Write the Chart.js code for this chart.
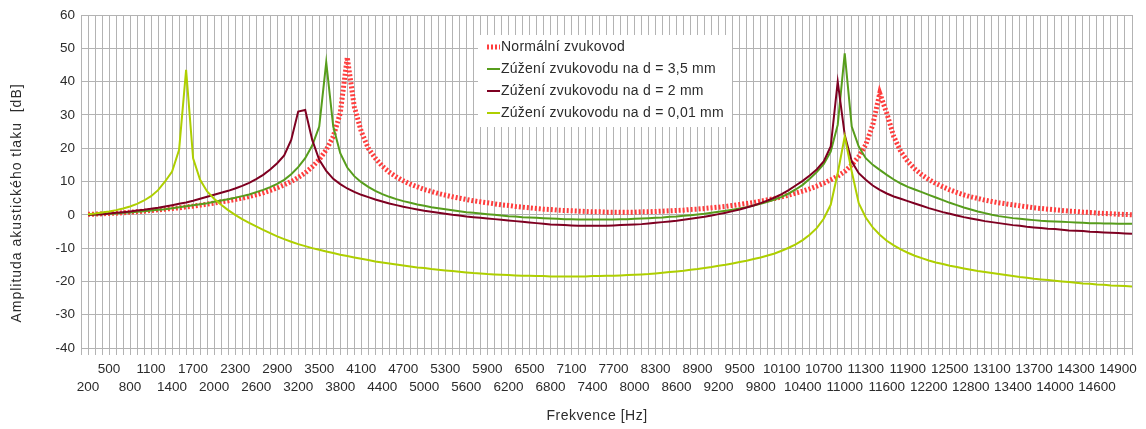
<!DOCTYPE html>
<html>
<head>
<meta charset="utf-8">
<script src="https://cdn.jsdelivr.net/npm/chart.js@4/dist/chart.umd.min.js"></script>
<style>
  html, body { margin: 0; padding: 0; background: #fff; }
  canvas { display: block; }
</style>
</head>
<body>
<canvas id="ucho" width="1146" height="429"></canvas>
<script>
// frequency points [Hz]
const freqs = [
  200, 300, 400, 500, 600, 700, 800, 900, 1000, 1100,
  1200, 1300, 1400, 1500, 1600, 1700, 1800, 1900, 2000, 2100,
  2200, 2300, 2400, 2500, 2600, 2700, 2800, 2900, 3000, 3100,
  3200, 3300, 3400, 3500, 3600, 3700, 3800, 3900, 4000, 4100,
  4200, 4300, 4400, 4500, 4600, 4700, 4800, 4900, 5000, 5100,
  5200, 5300, 5400, 5500, 5600, 5700, 5800, 5900, 6000, 6100,
  6200, 6300, 6400, 6500, 6600, 6700, 6800, 6900, 7000, 7100,
  7200, 7300, 7400, 7500, 7600, 7700, 7800, 7900, 8000, 8100,
  8200, 8300, 8400, 8500, 8600, 8700, 8800, 8900, 9000, 9100,
  9200, 9300, 9400, 9500, 9600, 9700, 9800, 9900, 10000, 10100,
  10200, 10300, 10400, 10500, 10600, 10700, 10800, 10900, 11000, 11100,
  11200, 11300, 11400, 11500, 11600, 11700, 11800, 11900, 12000, 12100,
  12200, 12300, 12400, 12500, 12600, 12700, 12800, 12900, 13000, 13100,
  13200, 13300, 13400, 13500, 13600, 13700, 13800, 13900, 14000, 14100,
  14200, 14300, 14400, 14500, 14600, 14700, 14800, 14900, 15000, 15100
];

// amplitude [dB] - normal ear canal
const normalni = [
  0.2, 0.2, 0.3, 0.4, 0.5, 0.6, 0.8, 0.9, 1.1, 1.3,
  1.5, 1.7, 1.9, 2.1, 2.4, 2.6, 2.9, 3.2, 3.5, 3.9,
  4.2, 4.6, 5.0, 5.5, 6.0, 6.6, 7.3, 8.1, 9.0, 10.0,
  11.2, 12.6, 14.4, 16.6, 19.5, 23.5, 30.5, 47.3, 32.5, 25.0,
  20.0, 17.0, 14.6, 12.8, 11.4, 10.2, 9.2, 8.4, 7.6, 7.0,
  6.4, 5.9, 5.4, 5.0, 4.6, 4.2, 3.9, 3.6, 3.3, 3.0,
  2.8, 2.5, 2.3, 2.1, 1.9, 1.7, 1.6, 1.4, 1.3, 1.2,
  1.1, 1.0, 0.9, 0.9, 0.8, 0.8, 0.8, 0.8, 0.8, 0.9,
  0.9, 1.0, 1.1, 1.2, 1.3, 1.4, 1.6, 1.7, 1.9, 2.1,
  2.3, 2.5, 2.8, 3.1, 3.4, 3.7, 4.1, 4.5, 4.9, 5.4,
  5.9, 6.5, 7.1, 7.8, 8.6, 9.5, 10.5, 11.6, 13.0, 15.0,
  17.5, 21.0, 27.0, 36.5, 30.5, 23.5, 19.0, 16.0, 13.8, 12.0,
  10.6, 9.4, 8.4, 7.5, 6.7, 6.0, 5.4, 4.9, 4.4, 4.0,
  3.6, 3.3, 3.0, 2.7, 2.4, 2.1, 1.9, 1.7, 1.5, 1.3,
  1.1, 1.0, 0.8, 0.7, 0.5, 0.4, 0.3, 0.2, 0.1, 0.0
];

// narrowing to d = 3,5 mm
const zuzeni35 = [
  0.0, 0.1, 0.2, 0.3, 0.4, 0.6, 0.7, 0.9, 1.1, 1.3,
  1.5, 1.7, 2.0, 2.3, 2.6, 2.9, 3.2, 3.5, 3.9, 4.3,
  4.7, 5.1, 5.6, 6.1, 6.8, 7.5, 8.3, 9.3, 10.5, 12.2,
  14.3, 17.0, 20.8, 26.5, 45.8, 26.5, 18.5, 14.2, 11.6, 9.8,
  8.4, 7.2, 6.2, 5.4, 4.7, 4.1, 3.6, 3.1, 2.7, 2.3,
  2.0, 1.7, 1.4, 1.1, 0.8, 0.6, 0.4, 0.2, 0.0, -0.2,
  -0.4, -0.5, -0.7, -0.8, -0.9, -1.0, -1.1, -1.2, -1.3, -1.3,
  -1.4, -1.4, -1.4, -1.4, -1.4, -1.4, -1.3, -1.3, -1.2, -1.1,
  -1.0, -0.9, -0.8, -0.6, -0.5, -0.3, -0.1, 0.1, 0.3, 0.6,
  0.9, 1.2, 1.5, 1.9, 2.3, 2.8, 3.3, 3.9, 4.6, 5.4,
  6.4, 7.6, 9.0, 10.8, 12.8, 15.2, 19.0, 27.0, 48.5, 26.5,
  20.5, 17.0, 15.0, 13.5, 12.0, 10.6, 9.4, 8.4, 7.6, 6.8,
  6.0, 5.2, 4.4, 3.6, 2.9, 2.2, 1.6, 1.0, 0.5, 0.0,
  -0.4, -0.7, -1.0, -1.2, -1.4, -1.6, -1.8, -1.9, -2.0, -2.1,
  -2.2, -2.3, -2.4, -2.5, -2.5, -2.6, -2.6, -2.7, -2.7, -2.7
];

// narrowing to d = 2 mm
const zuzeni2 = [
  0.0, 0.1, 0.2, 0.4, 0.6, 0.8, 1.0, 1.3, 1.5, 1.8,
  2.1, 2.5, 2.9, 3.3, 3.7, 4.2, 4.8, 5.4, 6.0, 6.6,
  7.2, 7.9, 8.7, 9.6, 10.7, 12.0, 13.6, 15.5, 17.8, 22.5,
  31.0, 31.5, 22.5, 16.5, 13.2, 10.8, 9.2, 7.9, 6.9, 6.0,
  5.3, 4.6, 4.0, 3.4, 2.9, 2.4, 2.0, 1.6, 1.2, 0.9,
  0.6, 0.3, 0.0, -0.2, -0.5, -0.7, -0.9, -1.1, -1.3, -1.5,
  -1.7, -1.9, -2.1, -2.3, -2.5, -2.7, -2.9, -3.0, -3.1, -3.2,
  -3.3, -3.3, -3.3, -3.3, -3.3, -3.2, -3.1, -3.0, -2.9, -2.8,
  -2.6, -2.4, -2.2, -2.0, -1.8, -1.5, -1.2, -0.9, -0.6, -0.2,
  0.2, 0.6, 1.1, 1.6, 2.2, 2.8, 3.5, 4.3, 5.2, 6.2,
  7.4, 8.8, 10.2, 11.8, 13.6, 16.0, 20.5, 40.0, 24.0, 16.0,
  12.5, 10.5, 8.8, 7.5, 6.4, 5.5, 4.8, 4.1, 3.4, 2.7,
  2.0, 1.4, 0.8, 0.3, -0.2, -0.7, -1.1, -1.5, -1.9, -2.2,
  -2.5, -2.8, -3.1, -3.3, -3.6, -3.8, -4.0, -4.2, -4.3, -4.5,
  -4.7, -4.8, -4.9, -5.1, -5.2, -5.3, -5.4, -5.5, -5.6, -5.7
];

// narrowing to d = 0,01 mm
const zuzeni001 = [
  0.2, 0.4, 0.7, 1.0, 1.4, 1.9, 2.5, 3.3, 4.3, 5.6,
  7.4, 10.0, 13.0, 19.5, 43.5, 17.0, 10.5, 7.0, 4.8, 3.0,
  1.4, 0.0, -1.3, -2.4, -3.5, -4.5, -5.5, -6.5, -7.3, -8.1,
  -8.8, -9.4, -10.0, -10.5, -11.0, -11.5, -12.0, -12.4, -12.8, -13.2,
  -13.6, -14.0, -14.3, -14.6, -14.9, -15.2, -15.5, -15.8, -16.0, -16.3,
  -16.5, -16.7, -16.9, -17.1, -17.3, -17.5, -17.6, -17.8, -17.9, -18.0,
  -18.1, -18.2, -18.3, -18.3, -18.4, -18.4, -18.5, -18.5, -18.5, -18.5,
  -18.5, -18.5, -18.4, -18.4, -18.3, -18.3, -18.2, -18.1, -18.0, -17.9,
  -17.8, -17.6, -17.4, -17.2, -17.0, -16.8, -16.5, -16.3, -16.0, -15.7,
  -15.3, -15.0, -14.6, -14.2, -13.8, -13.3, -12.8, -12.2, -11.6, -10.8,
  -9.9, -8.9, -7.6, -6.0, -4.0, -1.2, 3.0, 12.5, 23.5, 13.0,
  3.5, -0.8, -3.8, -6.0, -7.8, -9.2, -10.4, -11.4, -12.3, -13.0,
  -13.7, -14.3, -14.8, -15.3, -15.7, -16.1, -16.5, -16.9, -17.2, -17.5,
  -17.8, -18.1, -18.4, -18.7, -18.9, -19.2, -19.4, -19.6, -19.8, -20.0,
  -20.2, -20.4, -20.6, -20.7, -20.9, -21.0, -21.2, -21.3, -21.4, -21.5
];

const seriesNames = [
  "Normální zvukovod",
  "Zúžení zvukovodu na d = 3,5 mm",
  "Zúžení zvukovodu na d = 2 mm",
  "Zúžení zvukovodu na d = 0,01 mm"
];

const xTitle = "Frekvence [Hz]";
const yTitle = "Amplituda akustického tlaku  [dB]";

const FONT = '"Liberation Sans", Arial, sans-serif';
const GRID = "#b3b3b3";
const TEXT = "#2b2b2b";

function points(values) {
  return values.map((v, i) => ({ x: freqs[i], y: v }));
}

// legend box sitting inside the plot area
const insideLegend = {
  id: "insideLegend",
  afterDatasetsDraw(chart) {
    const ctx = chart.ctx;
    const left = 478, top = 35, w = 254, h = 92;
    ctx.save();
    ctx.fillStyle = "#fff";
    ctx.fillRect(left, top, w, h);
    ctx.font = "14px " + FONT;
    if ("letterSpacing" in ctx) ctx.letterSpacing = "0.25px";
    ctx.textBaseline = "middle";
    ctx.textAlign = "left";
    chart.data.datasets.forEach((ds, i) => {
      const y = top + 12 + i * 22;
      ctx.beginPath();
      ctx.strokeStyle = ds.borderColor;
      ctx.lineWidth = ds.borderWidth;
      ctx.setLineDash(ds.borderDash || []);
      ctx.moveTo(487, y);
      ctx.lineTo(500, y);
      ctx.stroke();
      ctx.setLineDash([]);
      ctx.fillStyle = TEXT;
      ctx.fillText(ds.label, 501, y);
    });
    ctx.restore();
  }
};

// axis titles, slightly letter-spaced
const axisTitles = {
  id: "axisTitles",
  afterDraw(chart) {
    const ctx = chart.ctx;
    ctx.save();
    ctx.fillStyle = TEXT;
    ctx.textAlign = "center";
    ctx.textBaseline = "middle";
    ctx.font = "14px " + FONT;
    if ("letterSpacing" in ctx) ctx.letterSpacing = "0.5px";
    ctx.fillText(xTitle, 597, 416);
    if ("letterSpacing" in ctx) ctx.letterSpacing = "1px";
    ctx.translate(17, 203);
    ctx.rotate(-Math.PI / 2);
    ctx.fillText(yTitle, 0, 0);
    ctx.restore();
  }
};

new Chart(document.getElementById("ucho"), {
  type: "line",
  data: {
    datasets: [
      {
        label: seriesNames[0],
        data: points(normalni),
        borderColor: "#ff3d3d",
        borderWidth: 5,
        borderDash: [2, 2],
        order: 4
      },
      {
        label: seriesNames[1],
        data: points(zuzeni35),
        borderColor: "#579d1c",
        borderWidth: 2,
        order: 3
      },
      {
        label: seriesNames[2],
        data: points(zuzeni2),
        borderColor: "#7e0021",
        borderWidth: 2,
        order: 2
      },
      {
        label: seriesNames[3],
        data: points(zuzeni001),
        borderColor: "#aecf00",
        borderWidth: 2,
        order: 1
      }
    ]
  },
  options: {
    responsive: false,
    animation: false,
    parsing: false,
    layout: { padding: { top: 15, right: 14, left: 0, bottom: 0 } },
    elements: {
      point: { radius: 0 },
      line: { tension: 0, fill: false, borderCapStyle: "butt" }
    },
    plugins: {
      legend: { display: false },
      tooltip: { enabled: false }
    },
    scales: {
      x: {
        type: "linear",
        min: 100,
        max: 15100,
        afterFit: s => { s.height = 81; },
        border: { color: GRID },
        grid: { color: GRID, tickLength: 7 },
        ticks: {
          stepSize: 100,
          autoSkip: false,
          maxRotation: 0,
          padding: 5,
          color: TEXT,
          font: { family: FONT, size: 13.5, lineHeight: 1.35 },
          callback: value => {
            const f = Math.round(value);
            if ((f - 500) % 600 === 0) return [String(f), ""];
            if ((f - 200) % 600 === 0) return ["", String(f)];
            return "";
          }
        }
      },
      y: {
        min: -40,
        max: 60,
        afterFit: s => { s.width = 81; },
        border: { color: GRID },
        grid: { color: GRID, drawTicks: false },
        ticks: {
          stepSize: 10,
          padding: 6,
          color: TEXT,
          font: { family: FONT, size: 13.5 }
        }
      }
    }
  },
  plugins: [insideLegend, axisTitles]
});
</script>
</body>
</html>
